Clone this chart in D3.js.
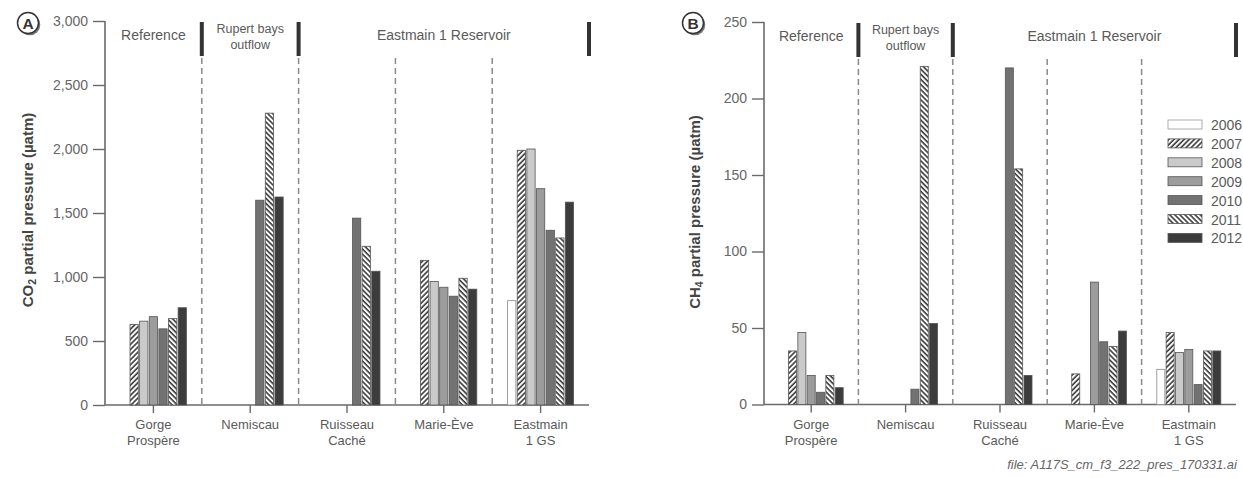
<!DOCTYPE html>
<html>
<head>
<meta charset="utf-8">
<script src="https://cdn.jsdelivr.net/npm/d3@7"></script>
<style>
  body { margin: 0; background: #fff; }
  svg { font-family: "Liberation Sans", Arial, sans-serif; }
</style>
</head>
<body>
<div id="viz"></div>
<script>
// Data
const years = ["2006", "2007", "2008", "2009", "2010", "2011", "2012"];
const categories = ["Gorge Prospère", "Nemiscau", "Ruisseau Caché", "Marie-Ève", "Eastmain 1 GS"];
const categoryLines = [["Gorge", "Prospère"], ["Nemiscau"], ["Ruisseau", "Caché"], ["Marie-Ève"], ["Eastmain", "1 GS"]];

// CO2 (µatm), one row per category, one value per year (null = no sample)
const co2Values = [
  [null, 630, 655, 690, 595, 675, 760],
  [null, null, null, null, 1600, 2280, 1625],
  [null, null, null, null, 1460, 1240, 1045],
  [null, 1130, 965, 920, 850, 990, 905],
  [815, 1990, 2000, 1690, 1365, 1305, 1585]
];

// CH4 (µatm)
const ch4Values = [
  [null, 35, 47, 19, 8, 19, 11],
  [null, null, null, null, 10, 221, 53],
  [null, null, null, null, 220, 154, 19],
  [null, 20, null, 80, 41, 38, 48],
  [23, 47, 34, 36, 13, 35, 35]
];

const co2Ticks = [0, 500, 1000, 1500, 2000, 2500, 3000];
const ch4Ticks = [0, 50, 100, 150, 200, 250];

// Zone headers: [label lines, first category index, last category index]
const zones = [
  [["Reference"], 0, 0],
  [["Rupert bays", "outflow"], 1, 1],
  [["Eastmain 1 Reservoir"], 2, 4]
];

const width = 1243;
const height = 478;

const svg = d3.select("#viz")
  .append("svg")
  .attr("width", width)
  .attr("height", height);

// Patterns and fills
const defs = svg.append("defs");
function hatch(id, angle) {
  const p = defs.append("pattern")
    .attr("id", id)
    .attr("patternUnits", "userSpaceOnUse")
    .attr("width", 3.6)
    .attr("height", 3.6)
    .attr("patternTransform", `rotate(${angle})`);
  p.append("rect").attr("width", 3.6).attr("height", 3.6).attr("fill", "#fff");
  p.append("line")
    .attr("x1", 1).attr("y1", 0).attr("x2", 1).attr("y2", 3.6)
    .attr("stroke", "#3a3a3a").attr("stroke-width", 1.6);
}
hatch("hatchA", 45);
hatch("hatchB", -45);

const yearFill = d3.scaleOrdinal()
  .domain(years)
  .range(["#ffffff", "url(#hatchA)", "#cacaca", "#9c9c9c", "#727272", "url(#hatchB)", "#3c3c3c"]);

const grey = "#5a5a5a";

function panel(opts) {
  const g = svg.append("g");

  const x = d3.scaleBand()
    .domain(categories)
    .range([opts.left, opts.right]);

  const y = d3.scaleLinear()
    .domain([0, opts.max])
    .range([opts.bottom, opts.top]);

  const xYear = d3.scaleBand()
    .domain(years)
    .range([-opts.group / 2, opts.group / 2])
    .paddingInner(0.14);

  // Y axis
  const yAxis = g.append("g")
    .attr("transform", `translate(${opts.left},0)`)
    .call(d3.axisLeft(y).tickValues(opts.ticks).tickFormat(d3.format(",")).tickSize(12).tickPadding(5));
  yAxis.select(".domain").attr("stroke", "#6a6a6a").attr("stroke-width", 1.6).attr("d", `M0,${opts.top}V${opts.bottom}`);
  yAxis.selectAll(".tick line").attr("stroke", "#6a6a6a").attr("stroke-width", 1.4);
  yAxis.selectAll(".tick text").attr("fill", "#666").attr("font-size", 14).attr("font-family", "Liberation Sans, Arial, sans-serif");

  // X axis
  const xAxis = g.append("g")
    .attr("transform", `translate(0,${opts.bottom})`)
    .call(d3.axisBottom(x).tickSize(8).tickFormat(""));
  xAxis.select(".domain").attr("stroke", "#6a6a6a").attr("stroke-width", 1.6).attr("d", `M${opts.left},0H${opts.right}`);
  xAxis.selectAll(".tick line").attr("stroke", "#6a6a6a").attr("stroke-width", 1.4);

  // Category labels
  categories.forEach((c, i) => {
    const t = g.append("text")
      .attr("x", x(c) + x.bandwidth() / 2)
      .attr("y", opts.bottom + 24)
      .attr("text-anchor", "middle")
      .attr("font-size", 13)
      .attr("fill", grey);
    categoryLines[i].forEach((line, k) => {
      t.append("tspan")
        .attr("x", x(c) + x.bandwidth() / 2)
        .attr("dy", k === 0 ? 0 : 16)
        .text(line);
    });
  });

  // Dashed dividers between categories
  const dividers = categories.slice(1).map(c => x(c));
  dividers.forEach(dx => {
    g.append("line")
      .attr("x1", dx).attr("x2", dx)
      .attr("y1", opts.top + 37).attr("y2", opts.bottom)
      .attr("stroke", "#8a8a8a")
      .attr("stroke-width", 1.5)
      .attr("stroke-dasharray", "6,4");
  });

  // Zone headers with thick end markers
  zones.forEach(([lines, a, b]) => {
    const x0 = x(categories[a]);
    const x1 = x(categories[b]) + x.bandwidth();
    const cx = (x0 + x1) / 2;
    const t = g.append("text")
      .attr("x", cx)
      .attr("text-anchor", "middle")
      .attr("fill", grey)
      .attr("font-size", lines.length > 1 ? 12.5 : 14)
      .attr("y", lines.length > 1 ? opts.top + 12 : opts.top + 19);
    lines.forEach((line, k) => {
      t.append("tspan").attr("x", cx).attr("dy", k === 0 ? 0 : 16).text(line);
    });
    g.append("rect")
      .attr("x", x1 - 2)
      .attr("y", opts.top + 1)
      .attr("width", 4)
      .attr("height", 34)
      .attr("fill", "#333");
  });

  // Bars
  opts.values.forEach((row, i) => {
    const cx = x(categories[i]) + x.bandwidth() / 2;
    g.selectAll(null)
      .data(row.map((v, j) => ({ year: years[j], v })).filter(d => d.v !== null))
      .enter().append("rect")
      .attr("x", d => cx + xYear(d.year))
      .attr("y", d => y(d.v))
      .attr("width", xYear.bandwidth())
      .attr("height", d => opts.bottom - y(d.v))
      .attr("fill", d => yearFill(d.year))
      .attr("stroke", d => d.year === "2006" ? "#888" : "#555")
      .attr("stroke-width", 0.8);
  });

  // Y title
  const title = g.append("text")
    .attr("transform", `translate(${opts.titleX},${opts.titleY}) rotate(-90)`)
    .attr("text-anchor", "middle")
    .attr("font-size", 15)
    .attr("font-weight", "bold")
    .attr("fill", "#444");
  title.append("tspan").text(opts.gas[0]);
  title.append("tspan").attr("font-size", 10.5).attr("dy", 3).text(opts.gas[1]);
  title.append("tspan").attr("dy", -3).text(" partial pressure (µatm)");

  // Panel letter
  const badge = g.append("g").attr("transform", `translate(${opts.badgeX},23)`);
  badge.append("circle").attr("cx", 1.8).attr("cy", 1.8).attr("r", 10.5).attr("fill", "#777");
  badge.append("circle").attr("r", 10.5).attr("fill", "#fff").attr("stroke", "#333").attr("stroke-width", 1.5);
  badge.append("text")
    .attr("text-anchor", "middle")
    .attr("dy", 5.5)
    .attr("font-size", 15.5)
    .attr("font-weight", "bold")
    .attr("fill", "#333")
    .text(opts.letter);

  return { x, y };
}

panel({
  left: 105, right: 589, top: 21, bottom: 405,
  max: 3000, ticks: co2Ticks, values: co2Values, group: 66,
  gas: ["CO", "2"], titleX: 33, titleY: 210, badgeX: 28, letter: "A"
});

panel({
  left: 764, right: 1236, top: 22, bottom: 404.5,
  max: 250, ticks: ch4Ticks, values: ch4Values, group: 64,
  gas: ["CH", "4"], titleX: 700, titleY: 212, badgeX: 693, letter: "B"
});

// Legend (panel B)
const legend = svg.append("g").attr("transform", "translate(1168,120)");
years.forEach((yr, i) => {
  const row = legend.append("g").attr("transform", `translate(0,${i * 18.9})`);
  row.append("rect")
    .attr("width", 34)
    .attr("height", 9)
    .attr("fill", yearFill(yr))
    .attr("stroke", yr === "2006" ? "#999" : "#555")
    .attr("stroke-width", 0.8);
  row.append("text")
    .attr("x", 43)
    .attr("y", 10)
    .attr("font-size", 14)
    .attr("fill", grey)
    .text(yr);
});

// File note
svg.append("text")
  .attr("x", 1237)
  .attr("y", 469)
  .attr("text-anchor", "end")
  .attr("font-size", 13)
  .attr("font-style", "italic")
  .attr("fill", "#666")
  .text("file: A117S_cm_f3_222_pres_170331.ai");
</script>
</body>
</html>
